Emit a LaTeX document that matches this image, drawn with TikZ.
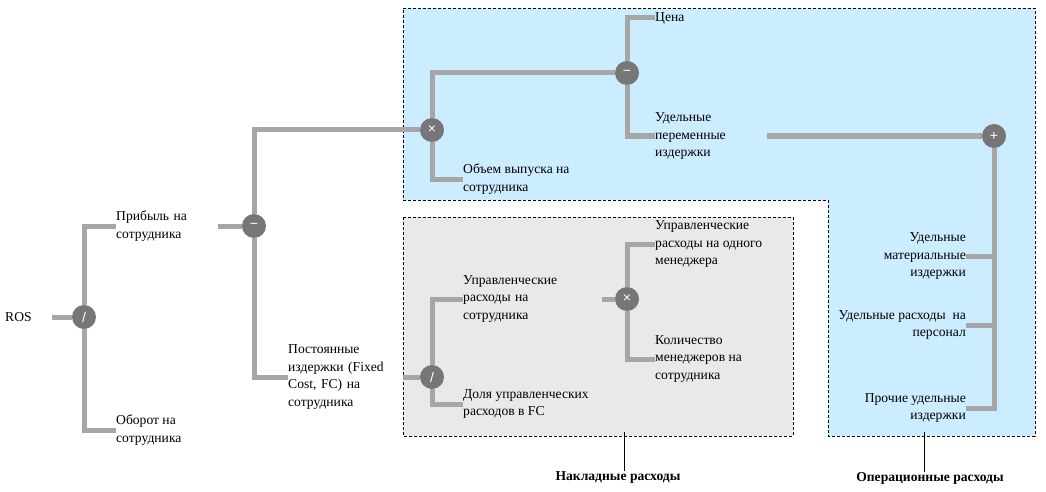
\documentclass[tikz,border=0pt]{standalone}
\usepackage{fontspec}
\setmainfont{Liberation Serif}
\newfontfamily\opfont{Liberation Sans}
\usepackage{xcolor}
\usepackage{tikz}
\usetikzlibrary{positioning}
\definecolor{opexblue}{RGB}{204,236,255}
\definecolor{ovhgray}{RGB}{233,233,233}
\definecolor{linkgray}{RGB}{166,166,166}
\definecolor{opgray}{RGB}{118,118,118}

\begin{document}
\begin{tikzpicture}[x=1pt, y=-1pt, font=\fontsize{13.6}{17.5}\selectfont,
		op/.style={circle, fill=opgray, minimum size=24pt, inner sep=0pt, text=white, font=\opfont\fontsize{14}{14}\selectfont},
		txt/.style={inner sep=0pt, align=left, anchor=west},
		rtxt/.style={inner sep=0pt, align=right, anchor=east},
		link/.style={draw=linkgray, line width=5pt},
		region/.style={draw=black, dash pattern=on 3pt off 2pt, line width=0.8pt},
		tag/.style={inner sep=0pt, font=\fontsize{13.6}{17.5}\selectfont\bfseries}]
		\useasboundingbox (0,0) rectangle (1046,492);

		\draw[region, fill=opexblue] (403,8) -- (1035,8) -- (1035,436) -- (828,436) -- (828,200) -- (403,200) -- cycle;
		\draw[region, fill=ovhgray] (403,217) rectangle (793,436);

		\node[txt, text width=47] (ros) at (5,317) {ROS};
		\node[op] (div1) at (84,317) {/};
		\node[txt, text width=102] (profit) at (116,226) {Прибыль на\\сотрудника};
		\node[txt] (turnover) at (116,430) {Оборот на\\сотрудника};
		\node[op] (minus1) at (254,226) {−};
		\node[txt, text width=115] (fixed) at (288,377) {Постоянные\\издержки (Fixed\\Cost, FC) на\\сотрудника};
		\node[op] (mul1) at (432,130) {×};
		\node[txt] (volume) at (463,179) {Объем выпуска на\\сотрудника};
		\node[op] (minus2) at (627,73) {−};
		\node[txt] (price) at (655,18) {Цена};
		\node[txt, text width=112] (varcost) at (655,136) {Удельные\\переменные\\издержки};
		\node[op] (plus) at (994,136) {+};
		\node[rtxt] (material) at (966,256) {Удельные\\материальные\\издержки};
		\node[rtxt] (staff) at (966,325) {Удельные расходы\ \ на\\персонал};
		\node[rtxt] (other) at (966,408) {Прочие удельные\\издержки};

		\node[op] (div2) at (432,377) {/};
		\node[txt, text width=139] (mgmt) at (463,299) {Управленческие\\расходы на\\сотрудника};
		\node[txt] (share) at (463,404) {Доля управленческих\\расходов в FC};
		\node[op] (mul2) at (627,299) {×};
		\node[txt] (permgr) at (655,244) {Управленческие\\расходы на одного\\менеджера};
		\node[txt] (nmgr) at (655,359) {Количество\\менеджеров на\\сотрудника};

		\draw[link] (ros.east) -- (div1);
		\draw[link] (div1) |- (profit.west);
		\draw[link] (div1) |- (turnover.west);
		\draw[link] (profit.east) -- (minus1);
		\draw[link] (minus1) |- (mul1);
		\draw[link] (minus1) |- (fixed.west);
		\draw[link] (mul1) |- (minus2);
		\draw[link] (mul1) |- (volume.west);
		\draw[link] (minus2) |- (price.west);
		\draw[link] (minus2) |- (varcost.west);
		\draw[link] (varcost.east) -- (plus);
		\draw[link] (plus) |- (material.east);
		\draw[link] (plus) |- (staff.east);
		\draw[link] (plus) |- (other.east);
		\draw[link] (fixed.east) -- (div2);
		\draw[link] (div2) |- (mgmt.west);
		\draw[link] (div2) |- (share.west);
		\draw[link] (mgmt.east) -- (mul2);
		\draw[link] (mul2) |- (permgr.west);
		\draw[link] (mul2) |- (nmgr.west);

		\coordinate (ovhtip) at (624,432);
		\node[tag] (ovhtag) at (618,477) {Накладные расходы};
		\draw (ovhtip) -- (ovhtip |- ovhtag.north);
		\coordinate (opextip) at (924,432);
		\node[tag] (opextag) at (930,478) {Операционные расходы};
		\draw (opextip) -- (opextip |- opextag.north);
	\end{tikzpicture}
\end{document}
